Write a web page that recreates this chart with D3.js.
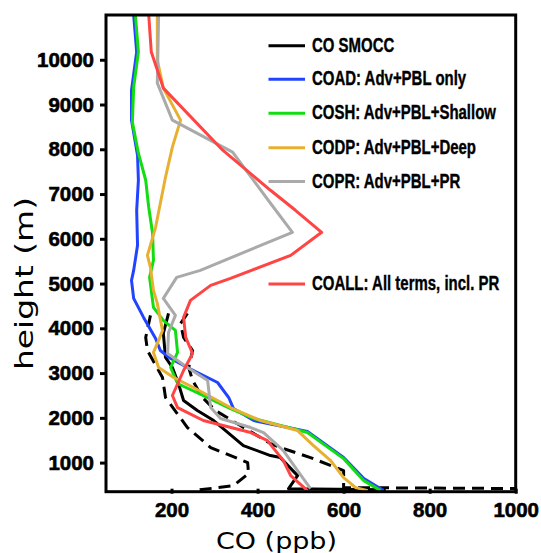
<!DOCTYPE html>
<html><head><meta charset="utf-8">
<script src="https://cdn.jsdelivr.net/npm/d3@7"></script>
<style>body{margin:0;background:#fff}svg{display:block}</style>
</head><body>
<svg id="c" width="541" height="553"></svg>
<script>
// ---- data (CO in ppb, height in m) ----
const xTicks = [200, 400, 600, 800, 1000];
const yTicks = [1000,2000,3000,4000,5000,6000,7000,8000,9000,10000];

const smoccCO  = [193,181,186,202,216,228,260,298,367,430,453,493,472,698];
const smoccH   = [4333,3886,3349,3125,2767,2387,2163,1940,1380,1157,1112,709,418,396];
const smoccLoCO = [151,140,144,179,186,237,291,377,379,344,251];
const smoccLoH  = [4288,3796,3505,2901,2454,1783,1336,1000,754,485,374];
const smoccHiCO = [237,221,228,249,240,249,272,302,360,407,430,460,523,600,600,1050];
const smoccHiH  = [4333,4109,3796,3505,3125,2834,2454,2163,1828,1559,1425,1313,1112,821,441,418];

const coadCO = [112,119,107,107,121,123,119,121,112,107,112,135,163,174,198,237,307,333,344,391,516,600,647,693];
const coadH  = [11000,10172,9322,8651,7868,7308,6637,5854,5295,5071,4669,4244,3774,3505,3326,3125,2790,2454,2208,1940,1693,1112,642,374];

const coshCO = [116,123,112,109,123,140,147,156,158,149,158,181,209,214,198,214,284,337,391,516,600,647,686];
const coshH  = [11000,10172,9389,8606,7912,7308,6704,6123,5518,5138,4467,4177,3953,3461,3125,2767,2454,2208,1984,1671,1089,597,374];

const codpCO = [167,167,181,221,202,186,174,163,144,151,158,167,179,170,158,170,205,251,337,407,493,530,570,600,628,656];
const codpH  = [11000,9993,9366,8651,8047,7375,6794,6257,5630,5362,4848,4557,3953,3729,3461,3125,2901,2678,2230,1940,1716,1380,1045,664,441,374];

const coprCO = [170,167,202,342,430,481,267,212,181,209,193,191,237,284,291,314,384,414,460,493,523];
const coprH  = [11000,9478,8651,7935,6794,6145,5295,5138,4669,4288,3908,3438,3125,2834,2230,1984,1783,1671,1268,821,418];

const coallCO = [147,153,181,319,430,488,549,477,337,291,244,228,233,249,228,202,214,274,384,423,460,477,516];
const coallH  = [11000,10172,9366,7979,7084,6637,6145,5630,5116,4960,4624,4244,3796,3438,3058,2499,2230,1940,1671,1492,1045,709,374];

const legendLabels = ["CO SMOCC","COAD: Adv+PBL only","COSH: Adv+PBL+Shallow","CODP: Adv+PBL+Deep","COPR: Adv+PBL+PR","COALL: All terms, incl. PR"];
const colors = ["#000000","#2244ff","#11dd11","#e8b030","#aaaaaa","#ff4444"];

// ---- layout ----
const svg = d3.select("#c");
const L = 106, R = 515.7, T = 15, B = 491.7;
const x = d3.scaleLinear().domain([47.7, 1000]).range([L, R]);
const y = d3.scaleLinear().domain([350, 11000]).range([B, T]);

svg.append("defs").append("clipPath").attr("id","pa")
  .append("rect").attr("x",L).attr("y",T).attr("width",R-L).attr("height",B-T);

const line = d3.line().x(d=>x(d[0])).y(d=>y(d[1]));
const g = svg.append("g").attr("clip-path","url(#pa)");
function draw(co, h, color, dash){
  g.append("path").datum(co.map((v,i)=>[v,h[i]]))
    .attr("d", line).attr("fill","none").attr("stroke",color)
    .attr("stroke-width",3).attr("stroke-linejoin","round")
    .attr("stroke-dasharray", dash || null);
}
draw(smoccLoCO, smoccLoH, "#000", "12,7");
draw(smoccHiCO, smoccHiH, "#000", "12,7");
draw(smoccCO, smoccH, colors[0]);
draw(coadCO, coadH, colors[1]);
draw(coshCO, coshH, colors[2]);
draw(codpCO, codpH, colors[3]);
draw(coprCO, coprH, colors[4]);
draw(coallCO, coallH, colors[5]);

// ---- axes ----
const tickFont = "'Liberation Sans', Arial, sans-serif";
const yAxis = svg.append("g").attr("transform",`translate(${L},0)`)
  .call(d3.axisLeft(y).tickValues(yTicks).tickSize(6).tickPadding(6).tickFormat(d3.format("d")));
const xAxis = svg.append("g").attr("transform",`translate(0,${B})`)
  .call(d3.axisBottom(x).tickValues(xTicks).tickSize(-3).tickPadding(10).tickFormat(d3.format("d")));
[yAxis, xAxis].forEach(a=>{
  a.select(".domain").remove();
  a.selectAll(".tick line").attr("stroke","#000").attr("stroke-width",3);
  a.selectAll(".tick text").attr("fill","#000").attr("stroke","#000").attr("stroke-width",0.6)
    .style("font-family",tickFont).style("font-weight","bold").style("font-size","20.5px");
});
xAxis.selectAll(".tick line").attr("y2",-3).attr("y1",2);
xAxis.selectAll(".tick text").attr("dy","0.71em").attr("y",11);

svg.append("rect").attr("x",L).attr("y",T).attr("width",R-L).attr("height",B-T)
  .attr("fill","none").attr("stroke","#000").attr("stroke-width",3);

// axis titles
const titleFont = "'DejaVu Sans', sans-serif";
svg.append("text").attr("x",216).attr("y",549).attr("textLength",121).attr("lengthAdjust","spacingAndGlyphs")
  .style("font-family",titleFont).style("font-size","23px").text("CO (ppb)");
svg.append("text").attr("transform","translate(33,370) rotate(-90)").attr("x",0).attr("y",0)
  .attr("textLength",173).attr("lengthAdjust","spacingAndGlyphs")
  .style("font-family",titleFont).style("font-size","25px").text("height (m)");

// ---- legend ----
const legYs = [45.7, 79.3, 113.3, 147.7, 181.5, 284];
const leg = svg.append("g");
legendLabels.forEach((lab,i)=>{
  leg.append("line").attr("x1",268.5).attr("x2",305).attr("y1",legYs[i]).attr("y2",legYs[i])
    .attr("stroke",colors[i]).attr("stroke-width",3);
  leg.append("text").attr("transform",`translate(312,${legYs[i]+6}) scale(0.73,1)`)
    .attr("fill","#000").attr("stroke","#000").attr("stroke-width",0.4)
    .style("font-family","'Liberation Sans', Arial, sans-serif")
    .style("font-weight","bold").style("font-size","20.5px").text(lab);
});
</script>
</body></html>
